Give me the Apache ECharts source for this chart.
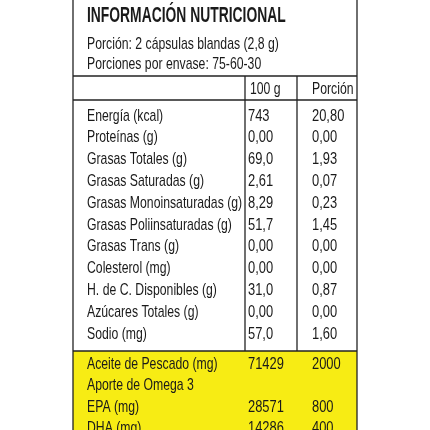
<!DOCTYPE html><html><head><meta charset="utf-8"><script src="https://cdn.jsdelivr.net/npm/echarts@6/dist/echarts.min.js"></script></head><body style="margin:0"><div id="c" style="width:430px;height:430px"></div><script>
const title='INFORMACIÓN NUTRICIONAL';
const subtitle=['Porción: 2 cápsulas blandas (2,8 g)','Porciones por envase: 75-60-30'];
const headers=['100 g','Porción'];
const nutrients=['Energía (kcal)','Proteínas (g)','Grasas Totales (g)','Grasas Saturadas (g)','Grasas Monoinsaturadas (g)','Grasas Poliinsaturadas (g)','Grasas Trans (g)','Colesterol (mg)','H. de C. Disponibles (g)','Azúcares Totales (g)','Sodio (mg)'];
const per100=['743','0,00','69,0','2,61','8,29','51,7','0,00','0,00','31,0','0,00','57,0'];
const perServing=['20,80','0,00','1,93','0,07','0,23','1,45','0,00','0,00','0,87','0,00','1,60'];
const extras=['Aceite de Pescado (mg)','Aporte de Omega 3','EPA (mg)','DHA (mg)'];
const extra100=['71429','','28571','14286'];
const extraServing=['2000','','800','400'];
const F='"Liberation Sans",Arial,sans-serif';
const g=[];
const L=73,R=357,C1=245,C2=297;
g.push({type:'rect',shape:{x:L,y:351,width:R-L,height:90},style:{fill:'#f7ec14'}});
const line=(x1,y1,x2,y2,w)=>g.push({type:'line',shape:{x1,y1,x2,y2},style:{stroke:'#222',lineWidth:w||1.3}});
line(L,0,L,430);line(R,0,R,430);line(L,76,R,76);line(L,100,R,100);line(L,351,R,351);
line(C1,76,C1,351);line(C2,76,C2,351);
const t=(x,y,s,sz,b,sx)=>g.push({type:'text',x,y,scaleX:sx||0.72,style:{text:s,font:(b?'bold ':'')+sz+'px '+F,fill:'#1a1a1a',textVerticalAlign:'middle'}});
t(87,16,title,22,true,0.63);
subtitle.forEach((s,i)=>t(87,44+i*20,s,17));
t(C1+5,89,headers[0],17);t(C2+15,89,headers[1],17);
nutrients.forEach((s,i)=>{const y=116+i*21.8;t(87,y,s,17);t(C1+3,y,per100[i],17,false,0.76);t(C2+15,y,perServing[i],17,false,0.76);});
extras.forEach((s,i)=>{const y=364+i*21.5;t(87,y,s,17);t(C1+3,y,extra100[i],17,false,0.76);t(C2+15,y,extraServing[i],17,false,0.76);});
const ch=echarts.init(document.getElementById('c'));
ch.setOption({backgroundColor:'#fff',graphic:g});
</script></body></html>
